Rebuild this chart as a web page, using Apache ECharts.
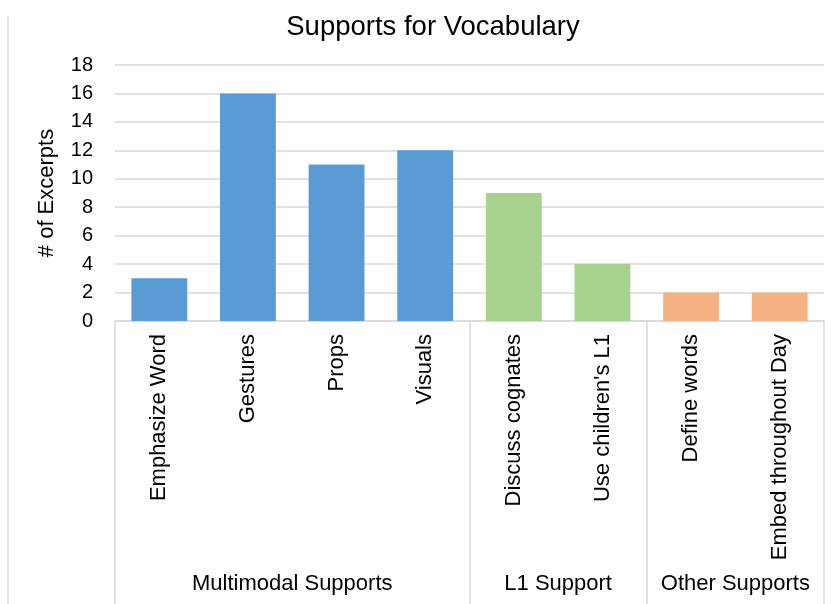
<!DOCTYPE html>
<html>
<head>
<meta charset="utf-8">
<script src="https://cdn.jsdelivr.net/npm/echarts@6/dist/echarts.min.js"></script>
<style>html,body{margin:0;padding:0;background:#fff;}#c{width:836px;height:604px;}</style>
</head>
<body>
<div id="c"></div>
<script>
const categories = ['Emphasize Word','Gestures','Props','Visuals','Discuss cognates',"Use children's L1",'Define words','Embed throughout Day'];
const values = [3, 16, 11, 12, 9, 4, 2, 2];
const groups = ['Multimodal Supports','L1 Support','Other Supports'];
const groupSizes = [4, 2, 2];
const groupColors = ['#5B9BD5','#A9D18E','#F4B183'];
const yTicks = [0, 2, 4, 6, 8, 10, 12, 14, 16, 18];

// derived group boundaries / centers
const bounds = [0];
groupSizes.forEach(s => bounds.push(bounds[bounds.length - 1] + s));
const centers = groupSizes.map((s, i) => bounds[i] + s / 2);
const catGroup = [];
groupSizes.forEach((s, i) => { for (let k = 0; k < s; k++) catGroup.push(i); });

const font = 'Liberation Sans, Arial, sans-serif';
const chart = echarts.init(document.getElementById('c'));
chart.setOption({
  animation: false,
  backgroundColor: '#fff',
  title: {
    text: 'Supports for Vocabulary',
    left: 428, top: 8, textAlign: 'center',
    textStyle: { fontFamily: font, fontSize: 27.5, fontWeight: 'normal', color: '#000' }
  },
  graphic: [{
    type: 'line', shape: { x1: 8, y1: 16, x2: 8, y2: 604 },
    style: { stroke: '#D9D9D9', lineWidth: 1.5 }
  }],
  grid: { left: 115, right: 12, top: 65, bottom: 283, containLabel: false },
  xAxis: [{
    type: 'category',
    data: categories,
    axisLine: { show: true, lineStyle: { color: '#D9D9D9', width: 1.5 } },
    axisTick: { show: false },
    axisLabel: { rotate: 90, margin: 13, fontFamily: font, fontSize: 22, color: '#000' },
    splitLine: { show: false }
  }, {
    type: 'value',
    min: 0, max: categories.length,
    position: 'bottom',
    axisLine: { show: false },
    splitLine: { show: false },
    axisTick: {
      show: true, customValues: bounds, length: 283, inside: false,
      lineStyle: { color: '#D9D9D9', width: 1.5 }
    },
    axisLabel: {
      show: true, customValues: centers, margin: 252,
      fontFamily: font, fontSize: 22, color: '#000',
      formatter: v => { const i = centers.indexOf(v); return i >= 0 ? groups[i] : ''; }
    }
  }],
  yAxis: {
    type: 'value',
    min: 0, max: 18, interval: 2,
    name: '# of Excerpts',
    nameLocation: 'middle', nameGap: 57,
    nameTextStyle: { fontFamily: font, fontSize: 22, color: '#000' },
    axisLine: { show: false },
    axisTick: { show: false },
    axisLabel: { margin: 22, fontFamily: font, fontSize: 20, color: '#000',
      formatter: v => yTicks.includes(v) ? String(v) : '' },
    splitLine: { lineStyle: { color: '#D9D9D9', width: 1.5 } }
  },
  series: [{
    type: 'bar',
    xAxisIndex: 0,
    barCategoryGap: '37%',
    data: values.map((v, i) => ({ value: v, itemStyle: { color: groupColors[catGroup[i]] } }))
  }]
});
</script>
</body>
</html>
